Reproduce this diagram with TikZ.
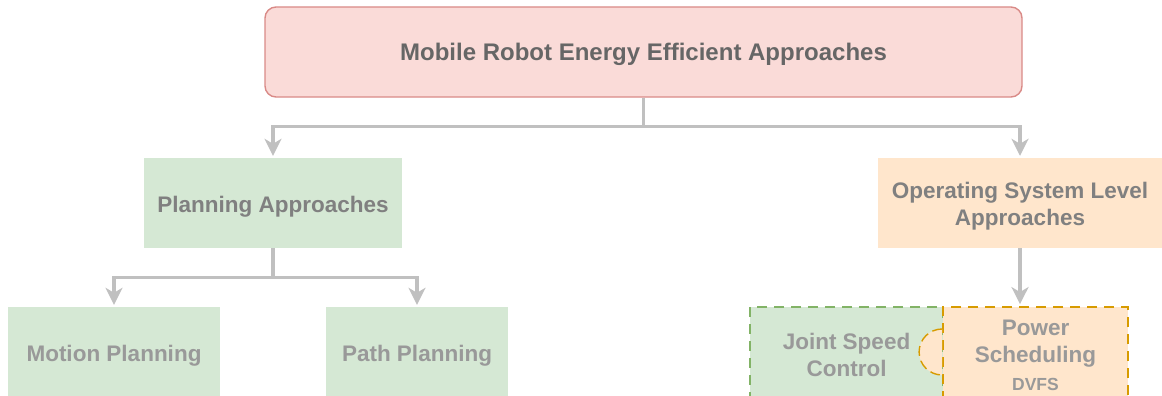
\documentclass[tikz,border=0pt]{standalone}
\usepackage{fontspec}
\setmainfont{Liberation Sans}
\usetikzlibrary{arrows.meta}

\definecolor{titlefill}{HTML}{FADBD8}
\definecolor{titledraw}{HTML}{D98A87}
\definecolor{greenfill}{HTML}{D5E8D4}
\definecolor{greendraw}{HTML}{82B366}
\definecolor{orangefill}{HTML}{FFE6CC}
\definecolor{orangedraw}{HTML}{D79B00}
\definecolor{conngray}{HTML}{C0C0C0}
\definecolor{darktext}{HTML}{666666}
\definecolor{midtext}{HTML}{808080}
\definecolor{lighttext}{HTML}{999999}

% pushes the text of a box a little down
\newcommand{\lowtext}{\rule{0pt}{23pt}}

\begin{document}
\begin{tikzpicture}[x=1pt,y=-1pt,
  box/.style={minimum height=90pt,inner sep=0pt,align=center,text=midtext,
    font=\bfseries\fontsize{22.5}{27}\selectfont},
  greenbox/.style={box,fill=greenfill},
  orangebox/.style={box,fill=orangefill},
  titlebox/.style={box,fill=titlefill,draw=titledraw,line width=1.4pt,
    rounded corners=11pt,text=darktext,font=\bfseries\fontsize{24}{29}\selectfont},
  dashbox/.style={dash pattern=on 10pt off 7pt,line width=1.8pt},
  conn/.style={draw=conngray,line width=3.3pt,shorten >=2pt,
    -{Stealth[length=17pt,width=17pt,inset=5pt]}}]
\useasboundingbox (0,0) rectangle (1162,396);
\clip (0,0) rectangle (1162,396);

% top level
\node[titlebox,minimum width=757pt] (robot) at (643.5,52) {\lowtext Mobile Robot Energy Efficient Approaches};

% second level
\node[greenbox,minimum width=258pt] (planning) at (273,203) {\lowtext Planning Approaches};
\node[orangebox,minimum width=284pt] (oslevel) at (1020,203) {\lowtext Operating System Level\\Approaches};

% third level
\node[greenbox,text=lighttext,minimum width=212pt] (motion) at (114,352) {\lowtext Motion Planning};
\node[greenbox,text=lighttext,minimum width=182pt] (path) at (417,352) {\lowtext Path Planning};
\node[greenbox,text=lighttext,draw=greendraw,dashbox,minimum width=193pt] (joint) at (846.5,352) {\lowtext Joint Speed\\Control};
\node[orangebox,text=lighttext,draw=orangedraw,dashbox,minimum width=185pt] (power) at (1035.5,352)
  {\lowtext Power\\Scheduling\\[1pt]{\fontsize{17.5}{20}\selectfont DVFS}};
\fill[orangefill] (power.west) ++(0,-23) arc (270:90:23) -- cycle;
\draw[draw=orangedraw,dash pattern=on 10pt off 5pt,line width=1.4pt] (power.west) ++(0,-23) arc (270:90:23);

% connectors
\draw[conn] (robot.south) -- ++(0,29) -| (planning.north);
\draw[conn] (robot.south) -- ++(0,29) -| (oslevel.north);
\draw[conn] (planning.south) -- ++(0,29) -| (motion.north);
\draw[conn] (planning.south) -- ++(0,29) -| (path.north);
\draw[conn] (oslevel.south) -- (oslevel.south |- power.north);
\end{tikzpicture}
\end{document}
